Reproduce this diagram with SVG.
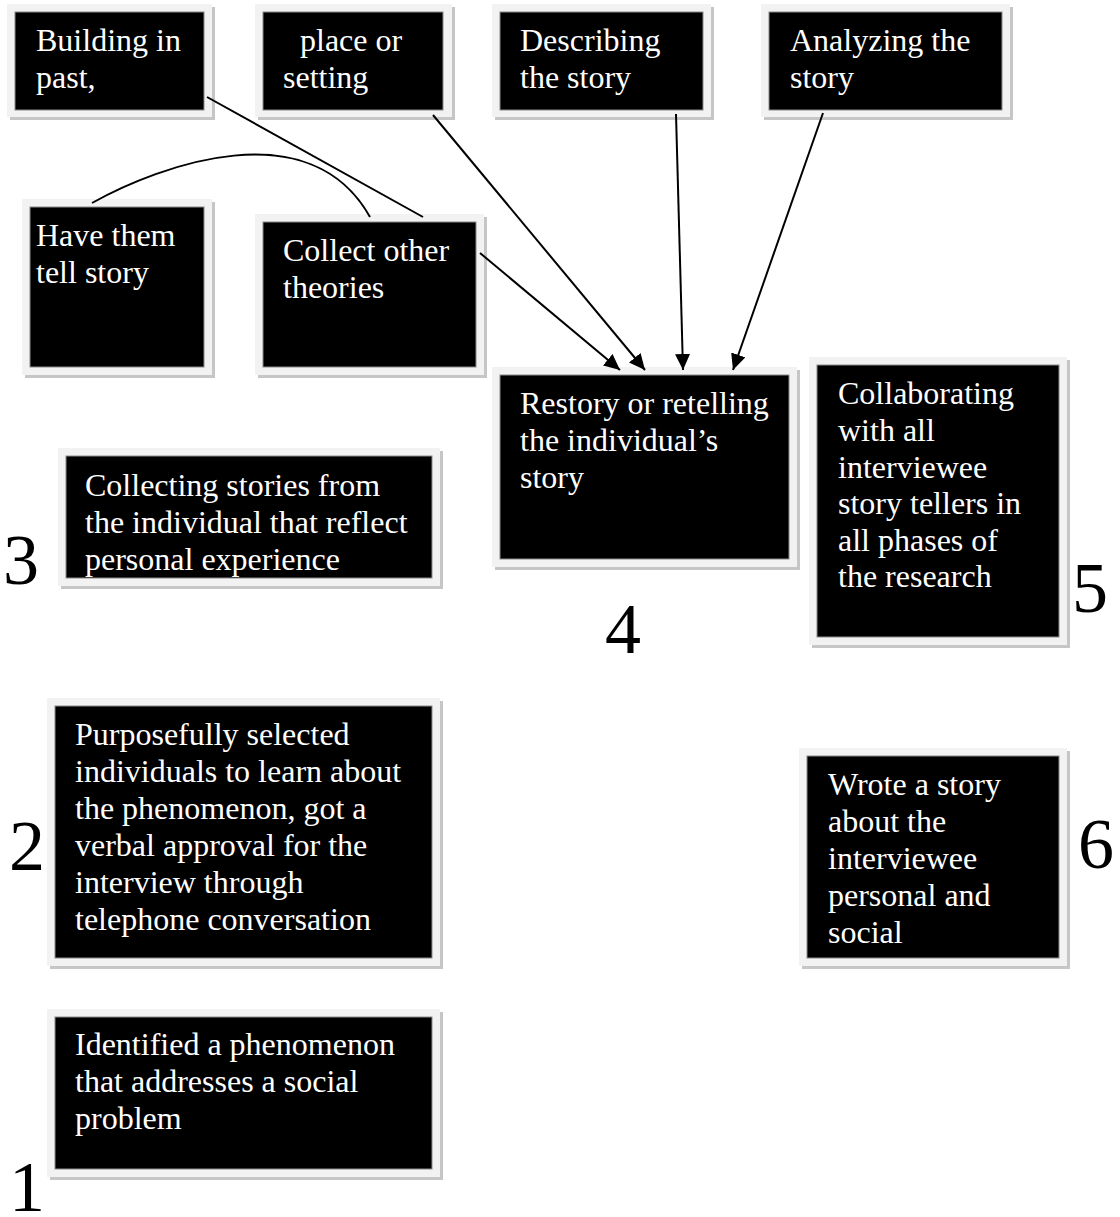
<svg xmlns="http://www.w3.org/2000/svg" width="1120" height="1217" viewBox="0 0 1120 1217">
<defs>
<style>
.sh{fill:#c6c6c6}
.fr{fill:#f2f2f2}
.bx{fill:#000;stroke:#8a8a8a;stroke-width:1}
.t{font-family:"Liberation Serif","Times New Roman",serif;font-size:32px;fill:#fff}
.n{font-family:"Liberation Serif","Times New Roman",serif;font-size:72px;fill:#000}
.c{fill:none;stroke:#000;stroke-width:2}
</style>
<marker id="ah" markerUnits="userSpaceOnUse" markerWidth="16" markerHeight="15" refX="16" refY="7.5" orient="auto">
<path d="M0,0 L16,7.5 L0,15 Z" fill="#000"/>
</marker>
</defs>
<rect width="1120" height="1217" fill="#fff"/>

<g id="n-building">
<rect class="sh" x="10" y="7" width="205" height="113"/>
<rect class="fr" x="7" y="4" width="205" height="113"/>
<rect class="bx" x="15" y="12" width="189" height="98"/>
<text class="t" x="36" y="51">Building in</text>
<text class="t" x="36" y="88">past,</text>
</g>

<g id="n-place">
<rect class="sh" x="258" y="7" width="197" height="113"/>
<rect class="fr" x="255" y="4" width="197" height="113"/>
<rect class="bx" x="263" y="12" width="180" height="98"/>
<text class="t" x="300" y="51">place or</text>
<text class="t" x="283" y="88">setting</text>
</g>

<g id="n-describing">
<rect class="sh" x="495" y="7" width="219" height="113"/>
<rect class="fr" x="492" y="4" width="219" height="113"/>
<rect class="bx" x="500" y="12" width="203" height="98"/>
<text class="t" x="520" y="51">Describing</text>
<text class="t" x="520" y="88">the story</text>
</g>

<g id="n-analyzing">
<rect class="sh" x="764" y="7" width="249" height="113"/>
<rect class="fr" x="761" y="4" width="249" height="113"/>
<rect class="bx" x="769" y="12" width="233" height="98"/>
<text class="t" x="790" y="51">Analyzing the</text>
<text class="t" x="790" y="88">story</text>
</g>

<g id="n-have">
<rect class="sh" x="25" y="202" width="190" height="176"/>
<rect class="fr" x="22" y="199" width="190" height="176"/>
<rect class="bx" x="30" y="207" width="174" height="160"/>
<text class="t" x="36" y="246">Have them</text>
<text class="t" x="36" y="283">tell story</text>
</g>

<g id="n-collect-other">
<rect class="sh" x="258" y="217" width="229" height="161"/>
<rect class="fr" x="255" y="214" width="229" height="161"/>
<rect class="bx" x="263" y="222" width="213" height="145"/>
<text class="t" x="283" y="261">Collect other</text>
<text class="t" x="283" y="298">theories</text>
</g>

<g id="n-restory">
<rect class="sh" x="495" y="370" width="305" height="200"/>
<rect class="fr" x="492" y="367" width="305" height="200"/>
<rect class="bx" x="500" y="375" width="289" height="184"/>
<text class="t" x="520" y="414">Restory or retelling</text>
<text class="t" x="520" y="451">the individual’s</text>
<text class="t" x="520" y="488">story</text>
</g>

<g id="n-collaborating">
<rect class="sh" x="812" y="360" width="258" height="288"/>
<rect class="fr" x="809" y="357" width="258" height="288"/>
<rect class="bx" x="817" y="365" width="242" height="272"/>
<text class="t" x="838" y="404">Collaborating</text>
<text class="t" x="838" y="441">with all</text>
<text class="t" x="838" y="478">interviewee</text>
<text class="t" x="838" y="514">story tellers in</text>
<text class="t" x="838" y="551">all phases of</text>
<text class="t" x="838" y="587">the research</text>
</g>

<g id="n-collecting">
<rect class="sh" x="61" y="451" width="382" height="138"/>
<rect class="fr" x="58" y="448" width="382" height="138"/>
<rect class="bx" x="66" y="456" width="366" height="122"/>
<text class="t" x="85" y="496">Collecting stories from</text>
<text class="t" x="85" y="533">the individual that reflect</text>
<text class="t" x="85" y="570">personal experience</text>
</g>

<g id="n-purposefully">
<rect class="sh" x="50" y="701" width="393" height="268"/>
<rect class="fr" x="47" y="698" width="393" height="268"/>
<rect class="bx" x="55" y="706" width="377" height="252"/>
<text class="t" x="75" y="745">Purposefully selected</text>
<text class="t" x="75" y="782">individuals to learn about</text>
<text class="t" x="75" y="819">the phenomenon, got a</text>
<text class="t" x="75" y="856">verbal approval for the</text>
<text class="t" x="75" y="893">interview through</text>
<text class="t" x="75" y="930">telephone conversation</text>
</g>

<g id="n-wrote">
<rect class="sh" x="802" y="751" width="268" height="218"/>
<rect class="fr" x="799" y="748" width="268" height="218"/>
<rect class="bx" x="807" y="756" width="252" height="202"/>
<text class="t" x="828" y="795">Wrote a story</text>
<text class="t" x="828" y="832">about the</text>
<text class="t" x="828" y="869">interviewee</text>
<text class="t" x="828" y="906">personal and</text>
<text class="t" x="828" y="943">social</text>
</g>

<g id="n-identified">
<rect class="sh" x="50" y="1012" width="393" height="168"/>
<rect class="fr" x="47" y="1009" width="393" height="168"/>
<rect class="bx" x="55" y="1017" width="377" height="152"/>
<text class="t" x="75" y="1055">Identified a phenomenon</text>
<text class="t" x="75" y="1092">that addresses a social</text>
<text class="t" x="75" y="1129">problem</text>
</g>

<g id="numbers">
<text class="n" x="3" y="584">3</text>
<text class="n" x="605" y="653">4</text>
<text class="n" x="1072" y="612">5</text>
<text class="n" x="9" y="870">2</text>
<text class="n" x="1078" y="868">6</text>
<text class="n" x="9" y="1211">1</text>
</g>

<g id="connectors">
<path class="c" d="M92,203 C160,165 310,110 370,217"/>
<path class="c" d="M207,97 L423,217"/>
<path class="c" d="M433,115 L645,370" marker-end="url(#ah)"/>
<path class="c" d="M480,253 L620,370" marker-end="url(#ah)"/>
<path class="c" d="M676,114 L683,370" marker-end="url(#ah)"/>
<path class="c" d="M823,113 L733,370" marker-end="url(#ah)"/>
</g>
</svg>
